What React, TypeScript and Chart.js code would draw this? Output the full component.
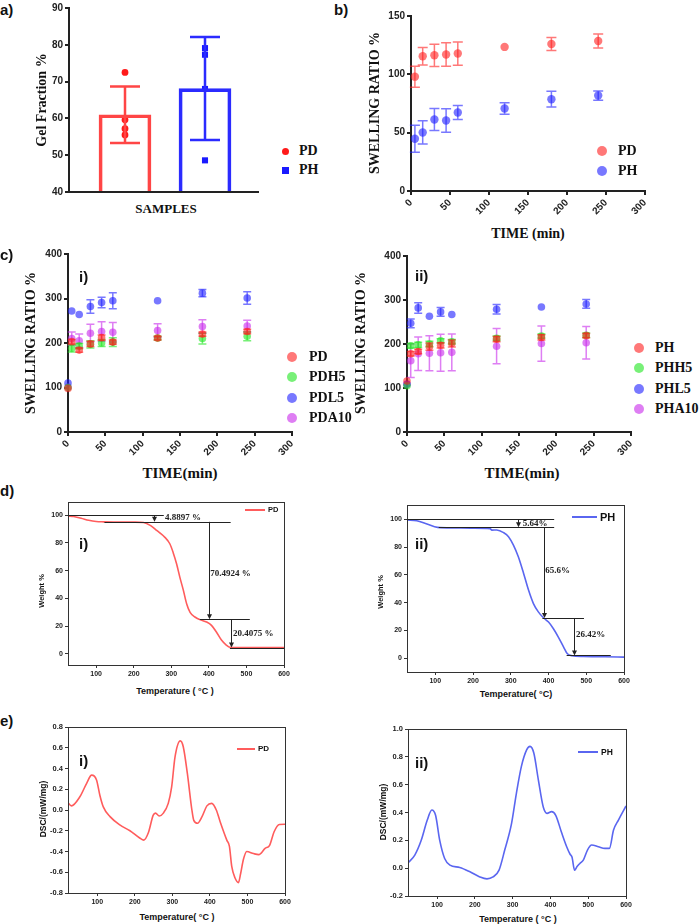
import React, { useEffect, useRef } from 'react';
import { Chart, registerables } from 'chart.js';
Chart.register(...registerables);

// ---------- a) Gel fraction ----------
const GEL_SAMPLES = ['PD', 'PH'];
const GEL_MEAN = [61.0, 68.1];
const GEL_SD = [7.7, 14.0];
const GEL_PD_POINTS = [72.5, 59.6, 57.2, 55.5];
const GEL_PH_POINTS = [79.1, 77.3, 68.0, 48.6];
const GEL_TICKS = [40, 50, 60, 70, 80, 90];

// ---------- b) Swelling PD / PH ----------
const TIME_B = [5, 15, 30, 45, 60, 120, 180, 240];
const SW_PD = [98, 115.5, 116.3, 117, 117.8, 123.5, 126, 128.6];
const SW_PD_ERR = [9, 7.5, 9.5, 10, 10, 0, 5.5, 6];
const SW_PH = [44.8, 50.2, 61.3, 60.4, 67.3, 70.7, 78.7, 81.8];
const SW_PH_ERR = [11.5, 10, 9.5, 10, 6, 5, 6.7, 4];
const SW_B_TICKS = [0, 50, 100, 150];
const TIME_TICKS = [0, 50, 100, 150, 200, 250, 300];

// ---------- c) Swelling of composites ----------
const TIME_C = [0, 5, 15, 30, 45, 60, 120, 180, 240];
const SW_C_TICKS = [0, 100, 200, 300, 400];
const C1_NAMES = ['PD', 'PDH5', 'PDL5', 'PDA10'];
const C1_PD = [98, 203, 184, 198, 212, 202, 211, 220, 226];
const C1_PD_ERR = [0, 5, 5, 6, 6, 5, 4, 5, 5];
const C1_PDH5 = [100, 188, 193, 197, 200, 202, 211, 210, 215];
const C1_PDH5_ERR = [0, 8, 6, 8, 8, 10, 4, 12, 10];
const C1_PDL5 = [110, 272, 264, 282, 291, 295, 295, 312, 301];
const C1_PDL5_ERR = [0, 0, 0, 15, 12, 18, 0, 8, 14];
const C1_PDA10 = [101, 210, 205, 222, 226, 224, 228, 237, 238];
const C1_PDA10_ERR = [0, 15, 15, 20, 22, 22, 15, 15, 13];

const C2_NAMES = ['PH', 'PHH5', 'PHL5', 'PHA10'];
const C2_PH = [116, 178, 183, 194, 197, 201, 211, 215, 219];
const C2_PH_ERR = [0, 5, 5, 8, 6, 8, 6, 6, 5];
const C2_PHH5 = [105, 196, 198, 200, 207, 205, 213, 218, 220];
const C2_PHH5_ERR = [0, 5, 6, 6, 5, 5, 5, 5, 5];
const C2_PHL5 = [109, 247, 282, 263, 273, 267, 279, 284, 291];
const C2_PHL5_ERR = [0, 10, 12, 0, 10, 0, 11, 0, 10];
const C2_PHA10 = [108, 162, 178, 179, 180, 181, 195, 201, 203];
const C2_PHA10_ERR = [0, 38, 38, 40, 42, 42, 40, 40, 37];

// ---------- d) TGA ----------
const TEMP_TICKS = [100, 200, 300, 400, 500, 600];
const WEIGHT_TICKS = [0, 20, 40, 60, 80, 100];
const TGA_PD_T = [25, 40, 60, 80, 100, 120, 160, 200, 226, 245, 261, 283, 296, 305, 314, 323, 332, 341, 350, 363, 376, 394, 407, 420, 434, 447, 456, 480, 540, 600];
const TGA_PD_W = [99.5, 99, 97.8, 96.3, 95.4, 95.2, 95.1, 95, 94.7, 92.5, 89, 84, 79.4, 73, 65, 55, 46, 36, 30, 26.6, 24.7, 23, 20.6, 15.8, 9.8, 6.2, 4.8, 4.6, 4.5, 4.5];
const TGA_PD_LEVELS = [[25, 280, 100], [122, 458, 95.2], [376, 509, 25], [456, 600, 4.6]];
const TGA_PD_STEPS = [[254, 100, 95.2], [400, 95.2, 25], [458, 25, 4.6]];
const TGA_PD_LOSS: [string, number, number][] = [['4.8897 %', 283, 98], ['70.4924 %', 404, 58], ['20.4075 %', 464, 14.6]];

const TGA_PH_T = [25, 51, 78, 106, 150, 200, 245, 250, 263, 281, 294, 307, 320, 334, 347, 360, 373, 387, 400, 413, 426, 440, 450, 462, 492, 550, 600];
const TGA_PH_W = [99.5, 99, 96.6, 94.2, 93.8, 93.6, 93.3, 92.2, 92.3, 90.4, 87.5, 81.4, 73, 61, 49, 39.3, 33.3, 28.9, 26, 21.2, 15.2, 8, 3.1, 1.7, 1.2, 1.0, 0.7];
const TGA_PH_LEVELS = [[25, 415, 100], [109, 415, 94.2], [384, 494, 28.9], [448, 565, 1.9]];
const TGA_PH_STEPS = [[320, 100, 94.2], [387, 94.2, 28.9], [468, 28.9, 1.9]];
const TGA_PH_LOSS: [string, number, number][] = [['5.64%', 332, 97.1], ['65.6%', 391, 62.9], ['26.42%', 473, 16.9]];

// ---------- e) DSC ----------
const DSC_PD_TICKS = [-0.8, -0.6, -0.4, -0.2, 0, 0.2, 0.4, 0.6, 0.8];
const DSC_PD_T = [22, 31, 54, 72, 85, 98, 107, 116, 134, 160, 187, 213, 224, 236, 249, 255, 265, 276, 289, 298, 307, 321, 329, 340, 352, 357, 367, 379, 392, 405, 417, 427, 445, 452, 458, 467, 476, 482, 489, 498, 516, 530, 547, 559, 571, 585, 600];
const DSC_PD_V = [0.07, 0.04, 0.13, 0.26, 0.336, 0.29, 0.14, 0.03, -0.064, -0.144, -0.2, -0.27, -0.29, -0.22, -0.05, -0.03, -0.058, -0.03, 0.064, 0.22, 0.51, 0.666, 0.61, 0.35, 0, -0.1, -0.128, -0.064, 0.04, 0.064, 0, -0.11, -0.29, -0.35, -0.54, -0.656, -0.7, -0.61, -0.48, -0.4, -0.42, -0.43, -0.37, -0.34, -0.21, -0.14, -0.138];
const DSC_PH_TICKS = [-0.2, 0, 0.2, 0.4, 0.6, 0.8, 1.0];
const DSC_PH_T = [23, 41, 58, 74, 86, 96, 107, 120, 134, 160, 187, 213, 232, 248, 264, 279, 297, 310, 323, 337, 346, 356, 368, 381, 391, 403, 414, 429, 443, 452, 457, 464, 470, 478, 487, 498, 509, 527, 544, 556, 567, 580, 600];
const DSC_PH_V = [0.038, 0.094, 0.2, 0.346, 0.418, 0.38, 0.2, 0.07, 0.022, 0.005, -0.026, -0.063, -0.077, -0.063, -0.014, 0.13, 0.32, 0.54, 0.73, 0.85, 0.875, 0.827, 0.635, 0.44, 0.394, 0.406, 0.38, 0.26, 0.154, 0.1, 0.08, -0.015, 0.01, 0.034, 0.058, 0.13, 0.166, 0.154, 0.142, 0.142, 0.274, 0.346, 0.447];

// ---------- styling ----------
const SANS = '"Liberation Sans", Arial, sans-serif';
const SERIF = '"Liberation Serif", "Times New Roman", serif';
const RED = 'rgba(255,30,30,0.6)';
const BLUE = 'rgba(30,30,255,0.6)';
const GREEN = 'rgba(30,230,30,0.6)';
const MAGENTA = 'rgba(200,40,235,0.6)';
const LINE_RED = '#ff5c5c';
const LINE_BLUE = '#5a66f0';

const errorBarPlugin = {
  id: 'errorBars',
  beforeDatasetDraw(chart: any, args: any) {
    const ds: any = chart.data.datasets[args.index];
    if (!ds.errors) return;
    const meta = args.meta;
    const yScale = chart.scales[meta.yAxisID];
    const ctx = chart.ctx;
    ctx.save();
    ctx.lineWidth = ds.errorWidth || 1.5;
    meta.data.forEach((el: any, i: number) => {
      const e = ds.errors[i];
      if (!e) return;
      const v = ds.data[i].y;
      const yt = yScale.getPixelForValue(v + e);
      const yb = yScale.getPixelForValue(v - e);
      const x = el.x;
      const c = (ds.capWidth || 8) / 2;
      ctx.strokeStyle = Array.isArray(ds.errorColor) ? ds.errorColor[i] : ds.errorColor;
      ctx.beginPath();
      ctx.moveTo(x, yt); ctx.lineTo(x, yb);
      ctx.moveTo(x - c, yt); ctx.lineTo(x + c, yt);
      ctx.moveTo(x - c, yb); ctx.lineTo(x + c, yb);
      ctx.stroke();
    });
    ctx.restore();
  },
};

const framePlugin = {
  id: 'frame',
  afterDatasetsDraw(chart: any) {
    const { ctx, chartArea: a } = chart;
    ctx.save();
    ctx.strokeStyle = '#333';
    ctx.lineWidth = 1;
    ctx.strokeRect(a.left + 0.5, a.top + 0.5, a.right - a.left, a.bottom - a.top);
    ctx.restore();
  },
};

function tgaPlugin(levels: number[][], steps: number[][], notes: [string, number, number][]) {
  return {
    id: 'tgaNotes',
    afterDatasetsDraw(chart: any) {
      const { ctx } = chart;
      const x = chart.scales.x;
      const y = chart.scales.y;
      ctx.save();
      ctx.strokeStyle = '#222';
      ctx.fillStyle = '#222';
      ctx.lineWidth = 1;
      levels.forEach(([x1, x2, v]) => {
        const py = Math.round(y.getPixelForValue(v)) + 0.5;
        ctx.beginPath();
        ctx.moveTo(x.getPixelForValue(x1), py);
        ctx.lineTo(x.getPixelForValue(x2), py);
        ctx.stroke();
      });
      steps.forEach(([xv, v1, v2]) => {
        const px = Math.round(x.getPixelForValue(xv)) + 0.5;
        const p1 = y.getPixelForValue(v1);
        const p2 = y.getPixelForValue(v2);
        ctx.beginPath();
        ctx.moveTo(px, p1); ctx.lineTo(px, p2 - 3);
        ctx.stroke();
        ctx.beginPath();
        ctx.moveTo(px, p2); ctx.lineTo(px - 2.5, p2 - 5); ctx.lineTo(px + 2.5, p2 - 5);
        ctx.closePath();
        ctx.fill();
      });
      ctx.font = 'bold 9px ' + SERIF;
      ctx.textBaseline = 'middle';
      ctx.textAlign = 'left';
      notes.forEach(([s, xv, v]) => ctx.fillText(s, x.getPixelForValue(xv), y.getPixelForValue(v)));
      ctx.restore();
    },
  };
}

function gpScale(ticks: number[], min: number, max: number, fit: (s: any) => void, extraTicks: any = {}, noTicks = false) {
  return {
    type: 'linear',
    min, max,
    offset: false,
    grid: { display: !noTicks, drawOnChartArea: false, drawTicks: true, tickLength: 4, color: '#222', lineWidth: 2 },
    border: { display: true, color: '#222', width: 2 },
    ticks: { display: !noTicks, color: '#222', font: { family: SANS, size: 10, weight: 'bold' }, padding: 2, autoSkip: false, ...extraTicks },
    afterBuildTicks: (s: any) => { s.ticks = ticks.map(v => ({ value: v })); },
    afterFit: fit,
  };
}

function orScale(ticks: number[], min: number, max: number, fit: (s: any) => void, size: number, dec: number) {
  return {
    type: 'linear',
    min, max,
    offset: false,
    grid: { display: true, drawOnChartArea: false, drawTicks: true, tickLength: 3, color: '#333', lineWidth: 1 },
    border: { display: true, color: '#333', width: 1 },
    ticks: {
      color: '#222', font: { family: SANS, size, weight: 'bold' }, padding: 2, autoSkip: false, maxRotation: 0,
      callback: (v: any) => Number(v).toFixed(dec),
    },
    afterBuildTicks: (s: any) => { s.ticks = ticks.map(v => ({ value: v })); },
    afterFit: fit,
  };
}

const baseOptions = (padT: number, padR: number) => ({
  responsive: false,
  maintainAspectRatio: false,
  animation: false,
  devicePixelRatio: 1,
  layout: { padding: { top: padT, right: padR, left: 0, bottom: 0 } },
  plugins: { legend: { display: false }, tooltip: { enabled: false } },
});

type Area = { l: number; t: number; r: number; b: number };
type Maker = (yFit: (s: any) => void, xFit: (s: any) => void, opts: any) => any;

function ChartBox({ area, yW, xH, make, padT = 10, padR = 22 }: { area: Area; yW: number; xH: number; make: Maker; padT?: number; padR?: number }) {
  const ref = useRef<HTMLCanvasElement>(null);
  const w = area.r - area.l + yW + padR;
  const h = area.b - area.t + padT + xH;
  useEffect(() => {
    const cfg = make((s: any) => { s.width = yW; }, (s: any) => { s.height = xH; }, baseOptions(padT, padR));
    const chart = new Chart(ref.current as HTMLCanvasElement, cfg);
    return () => chart.destroy();
  }, []);
  return (
    <div style={{ position: 'absolute', left: area.l - yW, top: area.t - padT, width: w, height: h, zIndex: 2 }}>
      <canvas ref={ref} width={w} height={h} style={{ display: 'block', width: w, height: h }} />
    </div>
  );
}

function Txt({ x, y, text, size, family = SERIF, rot = 0, align = 'center', weight = 'bold' }: any) {
  const tx = align === 'left' ? '0' : '-50%';
  return (
    <div style={{ position: 'absolute', left: x, top: y, transform: `translate(${tx}, -50%) rotate(${rot}deg)`, fontFamily: family, fontSize: size, fontWeight: weight, lineHeight: 1, whiteSpace: 'nowrap', color: '#111', zIndex: 3 }}>{text}</div>
  );
}

function Dot({ x, y, r, color, square = false }: any) {
  return <div style={{ position: 'absolute', left: x - r, top: y - r, width: 2 * r, height: 2 * r, borderRadius: square ? 0 : '50%', background: color }} />;
}

function LegLine({ x1, x2, y, color }: any) {
  return <div style={{ position: 'absolute', left: x1, top: y - 1, width: x2 - x1, height: 2, background: color, zIndex: 3 }} />;
}

const pts = (xs: number[], ys: number[]) => xs.map((x, i) => ({ x, y: ys[i] }));

const makeGel: Maker = (yFit, xFit, opts) => ({
  type: 'bar',
  data: {
    datasets: [
      {
        type: 'bar',
        data: GEL_SAMPLES.map((s, i) => ({ x: i + 1, y: GEL_MEAN[i] })),
        base: 40,
        backgroundColor: 'rgba(0,0,0,0)',
        borderColor: ['#ff4545', '#2b2bff'],
        borderWidth: 3,
        borderSkipped: 'bottom',
        barThickness: 52,
        errors: GEL_SD,
        errorColor: ['#ff4545', '#2b2bff'],
        errorWidth: 2.5,
        capWidth: 30,
      },
      { type: 'scatter', data: GEL_PD_POINTS.map(v => ({ x: 1, y: v })), pointBackgroundColor: '#ff1a1a', pointBorderWidth: 0, pointRadius: 3.4, pointStyle: 'circle', clip: false },
      { type: 'scatter', data: GEL_PH_POINTS.map(v => ({ x: 2, y: v })), pointBackgroundColor: '#1a1aff', pointBorderWidth: 0, pointRadius: 4.3, pointStyle: 'rect', clip: false },
    ],
  },
  options: {
    ...opts,
    scales: {
      x: gpScale([], 0.3, 2.6625, xFit, {}, true),
      y: gpScale(GEL_TICKS, 40, 90, yFit),
    },
  },
  plugins: [errorBarPlugin],
});

const swDataset = (xs: number[], ys: number[], errs: number[], color: string, r: number, cap: number) => ({
  data: pts(xs, ys),
  pointBackgroundColor: color,
  pointBorderWidth: 0,
  pointRadius: r,
  showLine: false,
  clip: false,
  errors: errs,
  errorColor: color,
  errorWidth: 1.5,
  capWidth: cap,
});

const makeSwB: Maker = (yFit, xFit, opts) => ({
  type: 'scatter',
  data: {
    datasets: [
      swDataset(TIME_B, SW_PD, SW_PD_ERR, RED, 4.2, 10),
      swDataset(TIME_B, SW_PH, SW_PH_ERR, BLUE, 4.2, 10),
    ],
  },
  options: {
    ...opts,
    scales: {
      x: gpScale(TIME_TICKS, 0, 300, xFit, { minRotation: 45, maxRotation: 45 }),
      y: gpScale(SW_B_TICKS, 0, 150, yFit),
    },
  },
  plugins: [errorBarPlugin],
});

const makeSwC = (sets: [number[], number[], string][]): Maker => (yFit, xFit, opts) => ({
  type: 'scatter',
  data: { datasets: sets.map(([v, e, c]) => swDataset(TIME_C, v, e, c, 3.8, 8)) },
  options: {
    ...opts,
    scales: {
      x: gpScale(TIME_TICKS, 0, 300, xFit, { minRotation: 45, maxRotation: 45 }),
      y: gpScale(SW_C_TICKS, 0, 400, yFit),
    },
  },
  plugins: [errorBarPlugin],
});

const lineDataset = (xs: number[], ys: number[], color: string) => ({
  data: pts(xs, ys),
  borderColor: color,
  borderWidth: 1.6,
  pointRadius: 0,
  cubicInterpolationMode: 'monotone',
  fill: false,
});

const makeTga = (xs: number[], ys: number[], color: string, ymin: number, ymax: number, plugin: any): Maker => (yFit, xFit, opts) => ({
  type: 'line',
  data: { datasets: [lineDataset(xs, ys, color)] },
  options: {
    ...opts,
    scales: {
      x: orScale(TEMP_TICKS, 25, 600, xFit, 7, 0),
      y: orScale(WEIGHT_TICKS, ymin, ymax, yFit, 7, 0),
    },
  },
  plugins: [framePlugin, plugin],
});

const makeDsc = (xs: number[], ys: number[], color: string, xmin: number, ticks: number[], ymin: number, ymax: number): Maker => (yFit, xFit, opts) => ({
  type: 'line',
  data: { datasets: [lineDataset(xs, ys, color)] },
  options: {
    ...opts,
    scales: {
      x: orScale(TEMP_TICKS, xmin, 600, xFit, 7, 0),
      y: orScale(ticks, ymin, ymax, yFit, 7.5, 1),
    },
  },
  plugins: [framePlugin],
});

const C1_SETS: [number[], number[], string][] = [[C1_PD, C1_PD_ERR, RED], [C1_PDH5, C1_PDH5_ERR, GREEN], [C1_PDL5, C1_PDL5_ERR, BLUE], [C1_PDA10, C1_PDA10_ERR, MAGENTA]];
const C2_SETS: [number[], number[], string][] = [[C2_PH, C2_PH_ERR, RED], [C2_PHH5, C2_PHH5_ERR, GREEN], [C2_PHL5, C2_PHL5_ERR, BLUE], [C2_PHA10, C2_PHA10_ERR, MAGENTA]];
const C_COLORS = [RED, GREEN, BLUE, MAGENTA];

export default function App() {
  return (
    <div style={{ position: 'absolute', left: 0, top: 0, width: 700, height: 924, background: '#fff', overflow: 'hidden' }}>
      {/* a) */}
      <ChartBox area={{ l: 69, t: 8, r: 258, b: 196 }} yW={34} xH={4} make={makeGel} />
      <Txt x={0} y={9} text="a)" size={15} family={SANS} align="left" />
      <Txt x={42} y={100} text="Gel Fraction %" size={14} rot={-90} />
      <Txt x={166} y={208} text="SAMPLES" size={13} />
      <Dot x={285} y={151} r={3.5} color="#ff1a1a" />
      <Txt x={299} y={151} text="PD" size={14} align="left" />
      <Dot x={285} y={170} r={3.5} color="#1a1aff" square />
      <Txt x={299} y={170} text="PH" size={14} align="left" />

      {/* b) */}
      <ChartBox area={{ l: 411, t: 16, r: 645, b: 191 }} yW={34} xH={30} make={makeSwB} />
      <Txt x={334} y={9} text="b)" size={15} family={SANS} align="left" />
      <Txt x={375} y={103} text="SWELLING RATIO %" size={14} rot={-90} />
      <Txt x={528} y={234} text="TIME (min)" size={14} />
      <Dot x={602} y={151} r={5} color={RED} />
      <Txt x={618} y={151} text="PD" size={14} align="left" />
      <Dot x={602} y={171} r={5} color={BLUE} />
      <Txt x={618} y={171} text="PH" size={14} align="left" />

      {/* c) */}
      <ChartBox area={{ l: 68, t: 254, r: 292, b: 432 }} yW={34} xH={30} make={makeSwC(C1_SETS)} />
      <Txt x={0} y={254} text="c)" size={15} family={SANS} align="left" />
      <Txt x={79} y={276} text="i)" size={15} family={SANS} align="left" />
      <Txt x={31} y={343} text="SWELLING RATIO %" size={14} rot={-90} />
      <Txt x={180} y={473} text="TIME(min)" size={15} />
      {C1_NAMES.map((n, i) => (
        <React.Fragment key={n}>
          <Dot x={292} y={357 + i * 20.3} r={5} color={C_COLORS[i]} />
          <Txt x={309} y={357 + i * 20.3} text={n} size={14} align="left" />
        </React.Fragment>
      ))}

      <ChartBox area={{ l: 407, t: 256, r: 631, b: 432 }} yW={34} xH={30} make={makeSwC(C2_SETS)} />
      <Txt x={415} y={275} text="ii)" size={15} family={SANS} align="left" />
      <Txt x={361} y={343} text="SWELLING RATIO %" size={14} rot={-90} />
      <Txt x={522} y={473} text="TIME(min)" size={15} />
      {C2_NAMES.map((n, i) => (
        <React.Fragment key={n}>
          <Dot x={639} y={348 + i * 20.3} r={5} color={C_COLORS[i]} />
          <Txt x={655} y={348 + i * 20.3} text={n} size={14} align="left" />
        </React.Fragment>
      ))}

      {/* d) */}
      <ChartBox area={{ l: 68, t: 502, r: 284, b: 665 }} yW={30} xH={16} make={makeTga(TGA_PD_T, TGA_PD_W, LINE_RED, -8, 109.5, tgaPlugin(TGA_PD_LEVELS, TGA_PD_STEPS, TGA_PD_LOSS))} />
      <Txt x={0} y={490} text="d)" size={15} family={SANS} align="left" />
      <Txt x={79} y={543} text="i)" size={15} family={SANS} align="left" />
      <Txt x={42} y={591} text="Weight %" size={7.5} family={SANS} rot={-90} />
      <Txt x={175} y={691} text="Temperature ( °C )" size={9} family={SANS} />
      <LegLine x1={245} x2={265} y={510} color={LINE_RED} />
      <Txt x={268} y={510} text="PD" size={7.5} family={SANS} align="left" />

      <ChartBox area={{ l: 407, t: 505, r: 624, b: 672 }} yW={30} xH={16} make={makeTga(TGA_PH_T, TGA_PH_W, LINE_BLUE, -10, 110.3, tgaPlugin(TGA_PH_LEVELS, TGA_PH_STEPS, TGA_PH_LOSS))} />
      <Txt x={415} y={543} text="ii)" size={15} family={SANS} align="left" />
      <Txt x={381} y={592} text="Weight %" size={7.5} family={SANS} rot={-90} />
      <Txt x={516} y={694} text="Temperature( °C)" size={9} family={SANS} />
      <LegLine x1={572} x2={597} y={517} color={LINE_BLUE} />
      <Txt x={600} y={517} text="PH" size={11} family={SANS} align="left" />

      {/* e) */}
      <ChartBox area={{ l: 68, t: 727, r: 285, b: 893 }} yW={30} xH={16} make={makeDsc(DSC_PD_T, DSC_PD_V, LINE_RED, 22, DSC_PD_TICKS, -0.8, 0.8)} />
      <Txt x={0} y={720} text="e)" size={15} family={SANS} align="left" />
      <Txt x={79} y={760} text="i)" size={15} family={SANS} align="left" />
      <Txt x={43} y={809} text="DSC/(mW/mg)" size={8.5} family={SANS} rot={-90} />
      <Txt x={177} y={917} text="Temperature( °C )" size={9} family={SANS} />
      <LegLine x1={237} x2={255} y={749} color={LINE_RED} />
      <Txt x={258} y={749} text="PD" size={8} family={SANS} align="left" />

      <ChartBox area={{ l: 408, t: 729, r: 626, b: 896 }} yW={30} xH={16} make={makeDsc(DSC_PH_T, DSC_PH_V, LINE_BLUE, 23, DSC_PH_TICKS, -0.2, 1.0)} />
      <Txt x={415} y={762} text="ii)" size={15} family={SANS} align="left" />
      <Txt x={383} y={812} text="DSC/(mW/mg)" size={8.5} family={SANS} rot={-90} />
      <Txt x={518} y={919} text="Temperature ( °C )" size={9} family={SANS} />
      <LegLine x1={578} x2={598} y={752} color={LINE_BLUE} />
      <Txt x={601} y={752} text="PH" size={8.5} family={SANS} align="left" />
    </div>
  );
}
